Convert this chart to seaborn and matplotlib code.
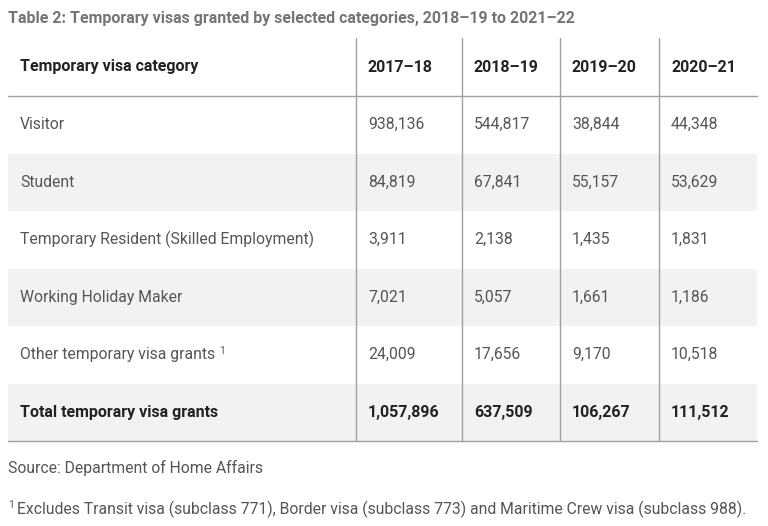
import matplotlib
matplotlib.use("Agg")
import matplotlib.pyplot as plt
import seaborn as sns

# table content
title = "Table 2: Temporary visas granted by selected categories, 2018\u201319 to 2021\u201322"
header_first = "Temporary visa category"
years = ["2017\u201318", "2018\u201319", "2019\u201320", "2020\u201321"]
categories = [
    "Visitor",
    "Student",
    "Temporary Resident (Skilled Employment)",
    "Working Holiday Maker",
    "Other temporary visa grants",
]
visitor = [938136, 544817, 38844, 44348]
student = [84819, 67841, 55157, 53629]
skilled = [3911, 2138, 1435, 1831]
working_holiday = [7021, 5057, 1661, 1186]
other = [24009, 17656, 9170, 10518]
total_label = "Total temporary visa grants"
total = [1057896, 637509, 106267, 111512]
source = "Source: Department of Home Affairs"
footnote = "Excludes Transit visa (subclass 771), Border visa (subclass 773) and Maritime Crew visa (subclass 988)."

rows = [visitor, student, skilled, working_holiday, other]

sns.set_theme(style="white")
plt.rcParams["font.family"] = ["Roboto", "DejaVu Sans"]

W, H = 768, 526
fig = plt.figure(figsize=(W / 100, H / 100), dpi=100)
ax = fig.add_axes([0, 0, 1, 1])
ax.set_xlim(0, W)
ax.set_ylim(H, 0)
ax.axis("off")

# layout
col_edges = [8, 356, 462, 560, 659, 757]
header_top, header_bottom = 38, 96
row_h = 57.5
pad = 12
line_col = "#a0a0a0"
shade = "#f2f2f2"
body_col = "#555555"
head_col = "#222222"
fs = 11.3
fs_b = 11.5

ax.text(8, 18, title, fontsize=11.5, fontweight="bold", color="#757575",
        va="center", ha="left")

# shading for alternate rows (student, working holiday, total)
n_rows = len(rows) + 1
for i in range(n_rows):
    if i % 2 == 1:
        y0 = header_bottom + i * row_h
        ax.fill_between([col_edges[0], col_edges[-1]], y0, y0 + row_h,
                        color=shade, lw=0, zorder=0)

bottom = header_bottom + n_rows * row_h

# grid lines
ax.plot([col_edges[0], col_edges[-1]], [header_bottom, header_bottom], color=line_col, lw=1)
ax.plot([col_edges[0], col_edges[-1]], [bottom, bottom], color=line_col, lw=1)
for x in col_edges[1:-1]:
    ax.plot([x, x], [header_top, bottom], color=line_col, lw=1)

# header
hy = (header_top + header_bottom) / 2
ax.text(col_edges[0] + pad, hy, header_first, fontsize=fs_b, fontweight="bold",
        color=head_col, va="center")
for j, yr in enumerate(years):
    ax.text(col_edges[j + 1] + pad, hy, yr, fontsize=fs_b, fontweight="bold",
            color=head_col, va="center")

# body rows
for i, (cat, vals) in enumerate(zip(categories, rows)):
    cy = header_bottom + (i + 0.5) * row_h
    ax.text(col_edges[0] + pad, cy, cat, fontsize=fs, color=body_col, va="center")
    for j, v in enumerate(vals):
        ax.text(col_edges[j + 1] + pad, cy, f"{v:,}", fontsize=fs,
                color=body_col, va="center")

# superscript after "Other temporary visa grants"
cy = header_bottom + 4.5 * row_h
t = ax.text(col_edges[0] + pad, cy, categories[4] + " ", fontsize=fs, color=body_col,
            va="center", alpha=0)
fig.canvas.draw()
bb = t.get_window_extent()
x_sup = ax.transData.inverted().transform((bb.x1, 0))[0]
ax.text(x_sup, cy - 4, "1", fontsize=7.5, color=body_col, va="center")
t.remove()

# total row
cy = header_bottom + 5.5 * row_h
ax.text(col_edges[0] + pad, cy, total_label, fontsize=fs_b, fontweight="bold",
        color=head_col, va="center")
for j, v in enumerate(total):
    ax.text(col_edges[j + 1] + pad, cy, f"{v:,}", fontsize=fs_b, fontweight="bold",
            color=head_col, va="center")

ax.text(8, 468, source, fontsize=fs, color=body_col, va="center")
ax.text(8, 505, "1", fontsize=7.5, color=body_col, va="center")
ax.text(17, 509, footnote, fontsize=fs, color=body_col, va="center")

fig.savefig("out.png", dpi=100)
plt.close(fig)
